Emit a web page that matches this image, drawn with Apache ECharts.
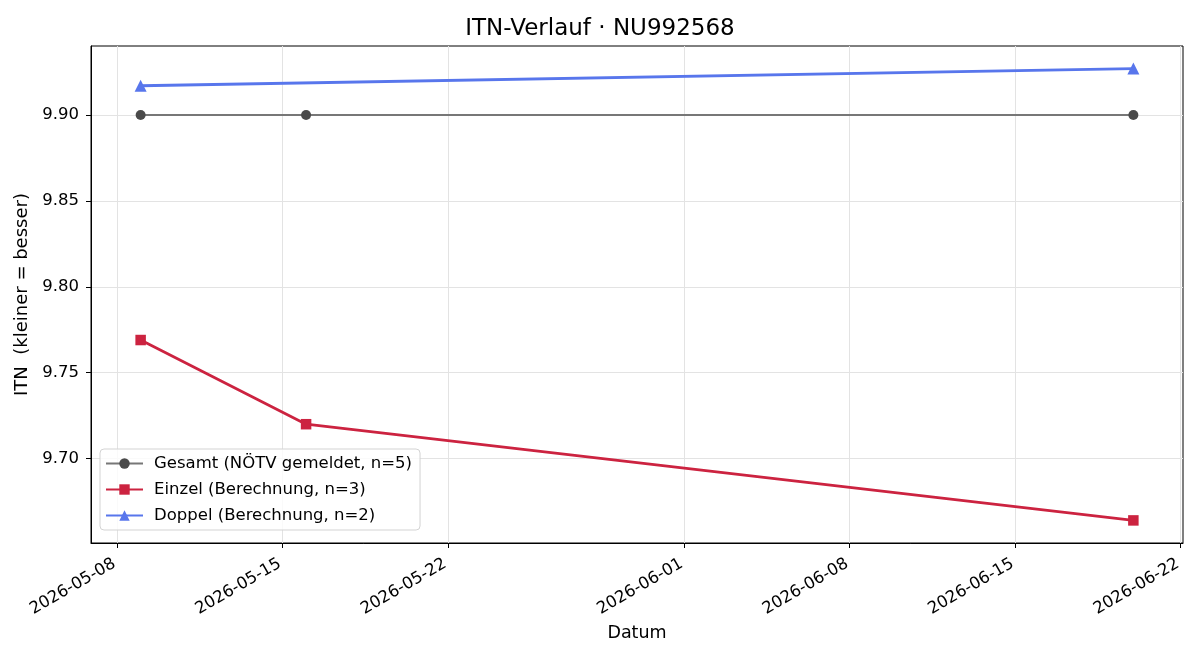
<!DOCTYPE html>
<html><head><meta charset="utf-8">
<script src="https://cdn.jsdelivr.net/npm/echarts@6/dist/echarts.min.js"></script>
<style>html,body{margin:0;padding:0;background:#fff}#c{width:1200px;height:660px}</style>
</head><body><div id="c"></div>
<script>
const dates = ['2026-05-09', '2026-05-16', '2026-06-20'];
const gesamt = [9.90, 9.90, 9.90];
const einzelDates = ['2026-05-09', '2026-05-16', '2026-06-20'];
const einzel = [9.769, 9.720, 9.664];
const doppelDates = ['2026-05-09', '2026-06-20'];
const doppel = [9.917, 9.927];
const xTickLabels = ['2026-05-08', '2026-05-15', '2026-05-22', '2026-06-01', '2026-06-08', '2026-06-15', '2026-06-22'];
const yTicks = [9.70, 9.75, 9.80, 9.85, 9.90];

const DAY = 86400000;
const t = s => Date.parse(s + 'T00:00:00Z');
const xTicks = xTickLabels.map(t);
const xMin = t(dates[0]) - 2.1 * DAY, xMax = t(dates[dates.length - 1]) + 2.1 * DAY;
const allY = gesamt.concat(einzel, doppel);
const yLo = Math.min(...allY), yHi = Math.max(...allY), yPad = (yHi - yLo) * 0.05;
const pad2 = n => String(n).padStart(2, '0');
const fmt = v => { const d = new Date(v); return d.getUTCFullYear() + '-' + pad2(d.getUTCMonth() + 1) + '-' + pad2(d.getUTCDate()); };
const FONT = 'DejaVu Sans';
const chart = echarts.init(document.getElementById('c'), null, { renderer: 'canvas' });
chart.setOption({
  animation: false,
  textStyle: { fontFamily: FONT },
  title: { text: 'ITN-Verlauf · NU992568', left: 'center', top: 13, textStyle: { fontFamily: FONT, fontSize: 23, fontWeight: 'normal', color: '#000' } },
  grid: { left: 91, right: 17, top: 46, bottom: 117, containLabel: false, show: true, borderColor: '#000', borderWidth: 1, backgroundColor: 'transparent' },
  xAxis: {
    type: 'value', min: xMin, max: xMax,
    name: 'Datum', nameLocation: 'middle', nameGap: 80,
    nameTextStyle: { fontFamily: FONT, fontSize: 17.5, color: '#000' },
    axisLine: { show: true, onZero: false, lineStyle: { color: '#000', width: 1 } },
    axisTick: { show: true, length: 5, customValues: xTicks, lineStyle: { color: '#000' } },
    axisLabel: { customValues: xTicks, rotate: 30, fontSize: 16.5, color: '#000', fontFamily: FONT, margin: 18, padding: [0, 3, 0, 0], formatter: v => fmt(v) },
    splitLine: { show: true, lineStyle: { color: '#e3e3e3', width: 1 } }
  },
  yAxis: {
    type: 'value', min: yLo - yPad, max: yHi + yPad,
    name: 'ITN  (kleiner = besser)', nameLocation: 'middle', nameGap: 56,
    nameTextStyle: { fontFamily: FONT, fontSize: 18, color: '#000' },
    axisLine: { show: true, lineStyle: { color: '#000', width: 1 } },
    axisTick: { show: true, length: 5, customValues: yTicks, lineStyle: { color: '#000' } },
    axisLabel: { customValues: yTicks, fontSize: 16.5, color: '#000', fontFamily: FONT, margin: 12, formatter: v => v.toFixed(2) },
    splitLine: { show: true, lineStyle: { color: '#e3e3e3', width: 1 } }
  },
  legend: {
    orient: 'vertical', left: 100, top: 449,
    backgroundColor: 'rgba(255,255,255,0.8)', borderColor: '#d3d3d3', borderWidth: 1, borderRadius: 4,
    padding: [6, 8, 6, 5], itemGap: 9, itemWidth: 37, itemHeight: 13,
    textStyle: { fontFamily: FONT, fontSize: 16.5, color: '#000', padding: [0, 0, 0, 6] },
    data: ['Gesamt (NÖTV gemeldet, n=5)', 'Einzel (Berechnung, n=3)', 'Doppel (Berechnung, n=2)']
  },
  series: [
    { name: 'Gesamt (NÖTV gemeldet, n=5)', type: 'line', symbol: 'circle', symbolSize: 10,
      data: dates.map((d, i) => [t(d), gesamt[i]]),
      lineStyle: { color: '#777777', width: 2.2 }, itemStyle: { color: '#4a4a4a' } },
    { name: 'Einzel (Berechnung, n=3)', type: 'line', symbol: 'rect', symbolSize: 10.5,
      data: einzelDates.map((d, i) => [t(d), einzel[i]]),
      lineStyle: { color: '#cc2340', width: 2.8 }, itemStyle: { color: '#cc2340' } },
    { name: 'Doppel (Berechnung, n=2)', type: 'line', symbol: 'triangle', symbolSize: 12,
      data: doppelDates.map((d, i) => [t(d), doppel[i]]),
      lineStyle: { color: '#5876ec', width: 2.8 }, itemStyle: { color: '#5876ec' } }
  ]
});
</script></body></html>
